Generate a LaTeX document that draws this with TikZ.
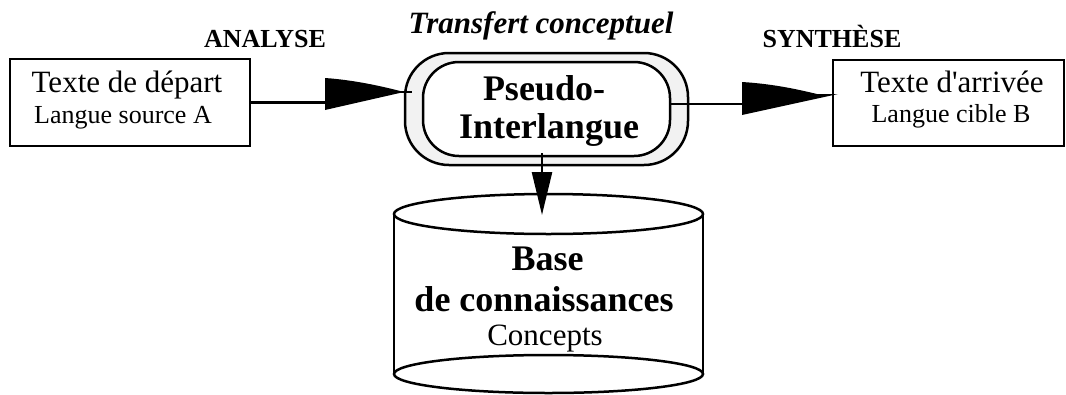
\documentclass[tikz,border=0pt]{standalone}
\usepackage{fontspec}
\setmainfont{Liberation Serif}
\usetikzlibrary{arrows.meta}

\begin{document}
\begin{tikzpicture}[x=1pt, y=-1pt, line width=2.5pt,
  text box/.style={rectangle,draw,inner sep=0pt},
  big text/.style={anchor=base,font=\fontsize{31}{31}\selectfont},
  small text/.style={anchor=base,font=\fontsize{26}{26}\selectfont},
  step label/.style={anchor=base,font=\fontsize{26}{26}\selectfont\bfseries},
  bold text/.style={anchor=base,font=\fontsize{36}{36}\selectfont\bfseries}]

\useasboundingbox (0,0) rectangle (1066,394);

% source and target texts
\node[text box, minimum width=240pt, minimum height=87pt] (src) at (130,102.5) {};
\node[big text] (srcT) at (127,92) {Texte de départ};
\node[small text] (srcL) at (123,123) {Langue source A};

\node[text box, minimum width=231pt, minimum height=86pt] (tgt) at (948.5,103) {};
\node[big text] (tgtT) at (952,92) {Texte d\textquotesingle arrivée};
\node[small text] (tgtL) at (951,122) {Langue cible B};

\node[step label] (ana) at (265,47) {ANALYSE};
\node[step label] (syn) at (832,47) {SYNTHÈSE};

% pseudo-interlingua in the middle
\node[anchor=base, font=\fontsize{31}{31}\selectfont\bfseries\itshape] (trans) at (541,33) {Transfert conceptuel};
\node[draw, fill=gray!10, rounded corners=44pt, minimum width=283pt, minimum height=112pt] (ring) at (546.5,109) {};
\node[draw, fill=white, rounded corners=36pt, minimum width=247pt, minimum height=94pt] (pil) at (546.5,109) {};
\node[bold text] (pilA) at (544,100) {Pseudo-};
\node[bold text] (pilB) at (549,138) {Interlangue};

% knowledge base
\draw (394,214) -- (394,374) (703,214) -- (703,374);
\draw[fill=white] (548.5,214) ellipse [x radius=154.5pt, y radius=20pt];
\draw (548.5,374) ellipse [x radius=154.5pt, y radius=19pt];
\coordinate (kbtop) at (542,215);
\node[bold text] (kbA) at (547.5,270) {Base};
\node[bold text] (kbB) at (544,311) {de connaissances};
\node[big text] (kbC) at (545,345) {Concepts};

% arrows
\coordinate (headL) at (325,102.5);
\draw (src.east) -- (headL);
\fill (325,78) .. controls (355,80) and (385,87) .. (404,92) -- (325,110) -- cycle;
\draw[line width=2pt] (400,92) -- (412,92);

\coordinate (headR) at (742,104);
\draw ([yshift=5pt]pil.east) -- (headR);
\fill (742,82) .. controls (775,84) and (800,90) .. (817,94) -- (838,94) -- (742,115) -- cycle;

\draw[-{Triangle[length=43pt,width=20pt]}] ([xshift=-4.5pt,yshift=4pt]pil.south) -- (kbtop);

\end{tikzpicture}
\end{document}
